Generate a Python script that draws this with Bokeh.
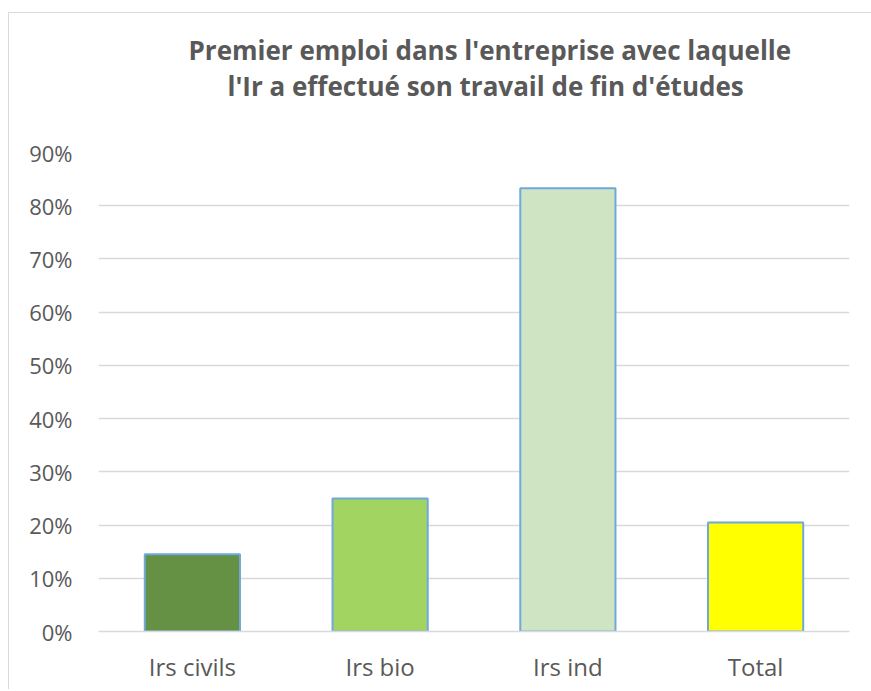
from bokeh.plotting import figure
from bokeh.models import FixedTicker, NumeralTickFormatter, FactorRange, Range1d, ColumnDataSource, Title
from bokeh.embed import file_html
from bokeh.resources import INLINE

categories = ["Irs civils", "Irs bio", "Irs ind", "Total"]
values = [0.145, 0.25, 0.833, 0.205]
colors = ["#649144", "#A2D462", "#CFE4C3", "#FFFF00"]
y_ticks = [0.0, 0.1, 0.2, 0.3, 0.4, 0.5, 0.6, 0.7, 0.8, 0.9]
title_line1 = "Premier emploi dans l'entreprise avec laquelle"
title_line2 = "l'Ir a effectué son travail de fin d'études"

src = ColumnDataSource(dict(cat=categories, val=values, col=colors))

p = figure(width=863, height=677, x_range=FactorRange(*categories), y_range=Range1d(0, 0.9),
           output_backend="svg", toolbar_location=None,
           min_border_left=89, min_border_right=23, min_border_top=139, min_border_bottom=59,
           margin=(12, 0, 0, 8),
           styles={"border-top": "1px solid #d9d9d9", "border-left": "1px solid #d9d9d9"})

p.vbar(x="cat", top="val", width=0.507, source=src, fill_color="col",
       line_color="#6FA8DC", line_width=2)

# line 1 (outermost title)
p.title.text = title_line1
p.title.align = "left"
p.title.offset = 90
p.title.standoff = 0
p.title.vertical_align = "bottom"
p.title.text_font = "Open Sans"
p.title.text_font_style = "bold"
p.title.text_font_size = "26px"
p.title.text_color = "#595959"

# line 2 (next to the plot area; trailing empty line keeps the gap above the plot)
t2 = Title(text=title_line2 + "\n", align="left", offset=129, standoff=0,
           vertical_align="top", text_line_height=1.3,
           text_font="Open Sans", text_font_style="bold", text_font_size="26px",
           text_color="#595959")
p.add_layout(t2, "above")

p.outline_line_color = None
p.xgrid.grid_line_color = None
p.ygrid.grid_line_color = "#D9D9D9"
p.ygrid.grid_line_width = 1.5
p.ygrid.ticker = FixedTicker(ticks=y_ticks)

p.yaxis.ticker = FixedTicker(ticks=y_ticks)
p.yaxis.formatter = NumeralTickFormatter(format="0%")
p.yaxis.axis_line_color = None
p.yaxis.major_tick_line_color = None
p.yaxis.minor_tick_line_color = None
p.yaxis.major_tick_out = 0
p.yaxis.major_tick_in = 0
p.yaxis.minor_tick_out = 0
p.yaxis.major_label_standoff = 26
p.yaxis.major_label_text_font = "Open Sans"
p.yaxis.major_label_text_font_size = "22px"
p.yaxis.major_label_text_color = "#595959"

p.xaxis.axis_line_color = "#D9D9D9"
p.xaxis.axis_line_width = 1.5
p.xaxis.major_tick_line_color = None
p.xaxis.minor_tick_line_color = None
p.xaxis.major_tick_out = 0
p.xaxis.major_tick_in = 0
p.xaxis.minor_tick_out = 0
p.xaxis.major_label_standoff = 18
p.xaxis.major_label_text_font = "Open Sans"
p.xaxis.major_label_text_font_size = "24px"
p.xaxis.major_label_text_color = "#595959"

open("out.html", "w").write(file_html(p, INLINE))
